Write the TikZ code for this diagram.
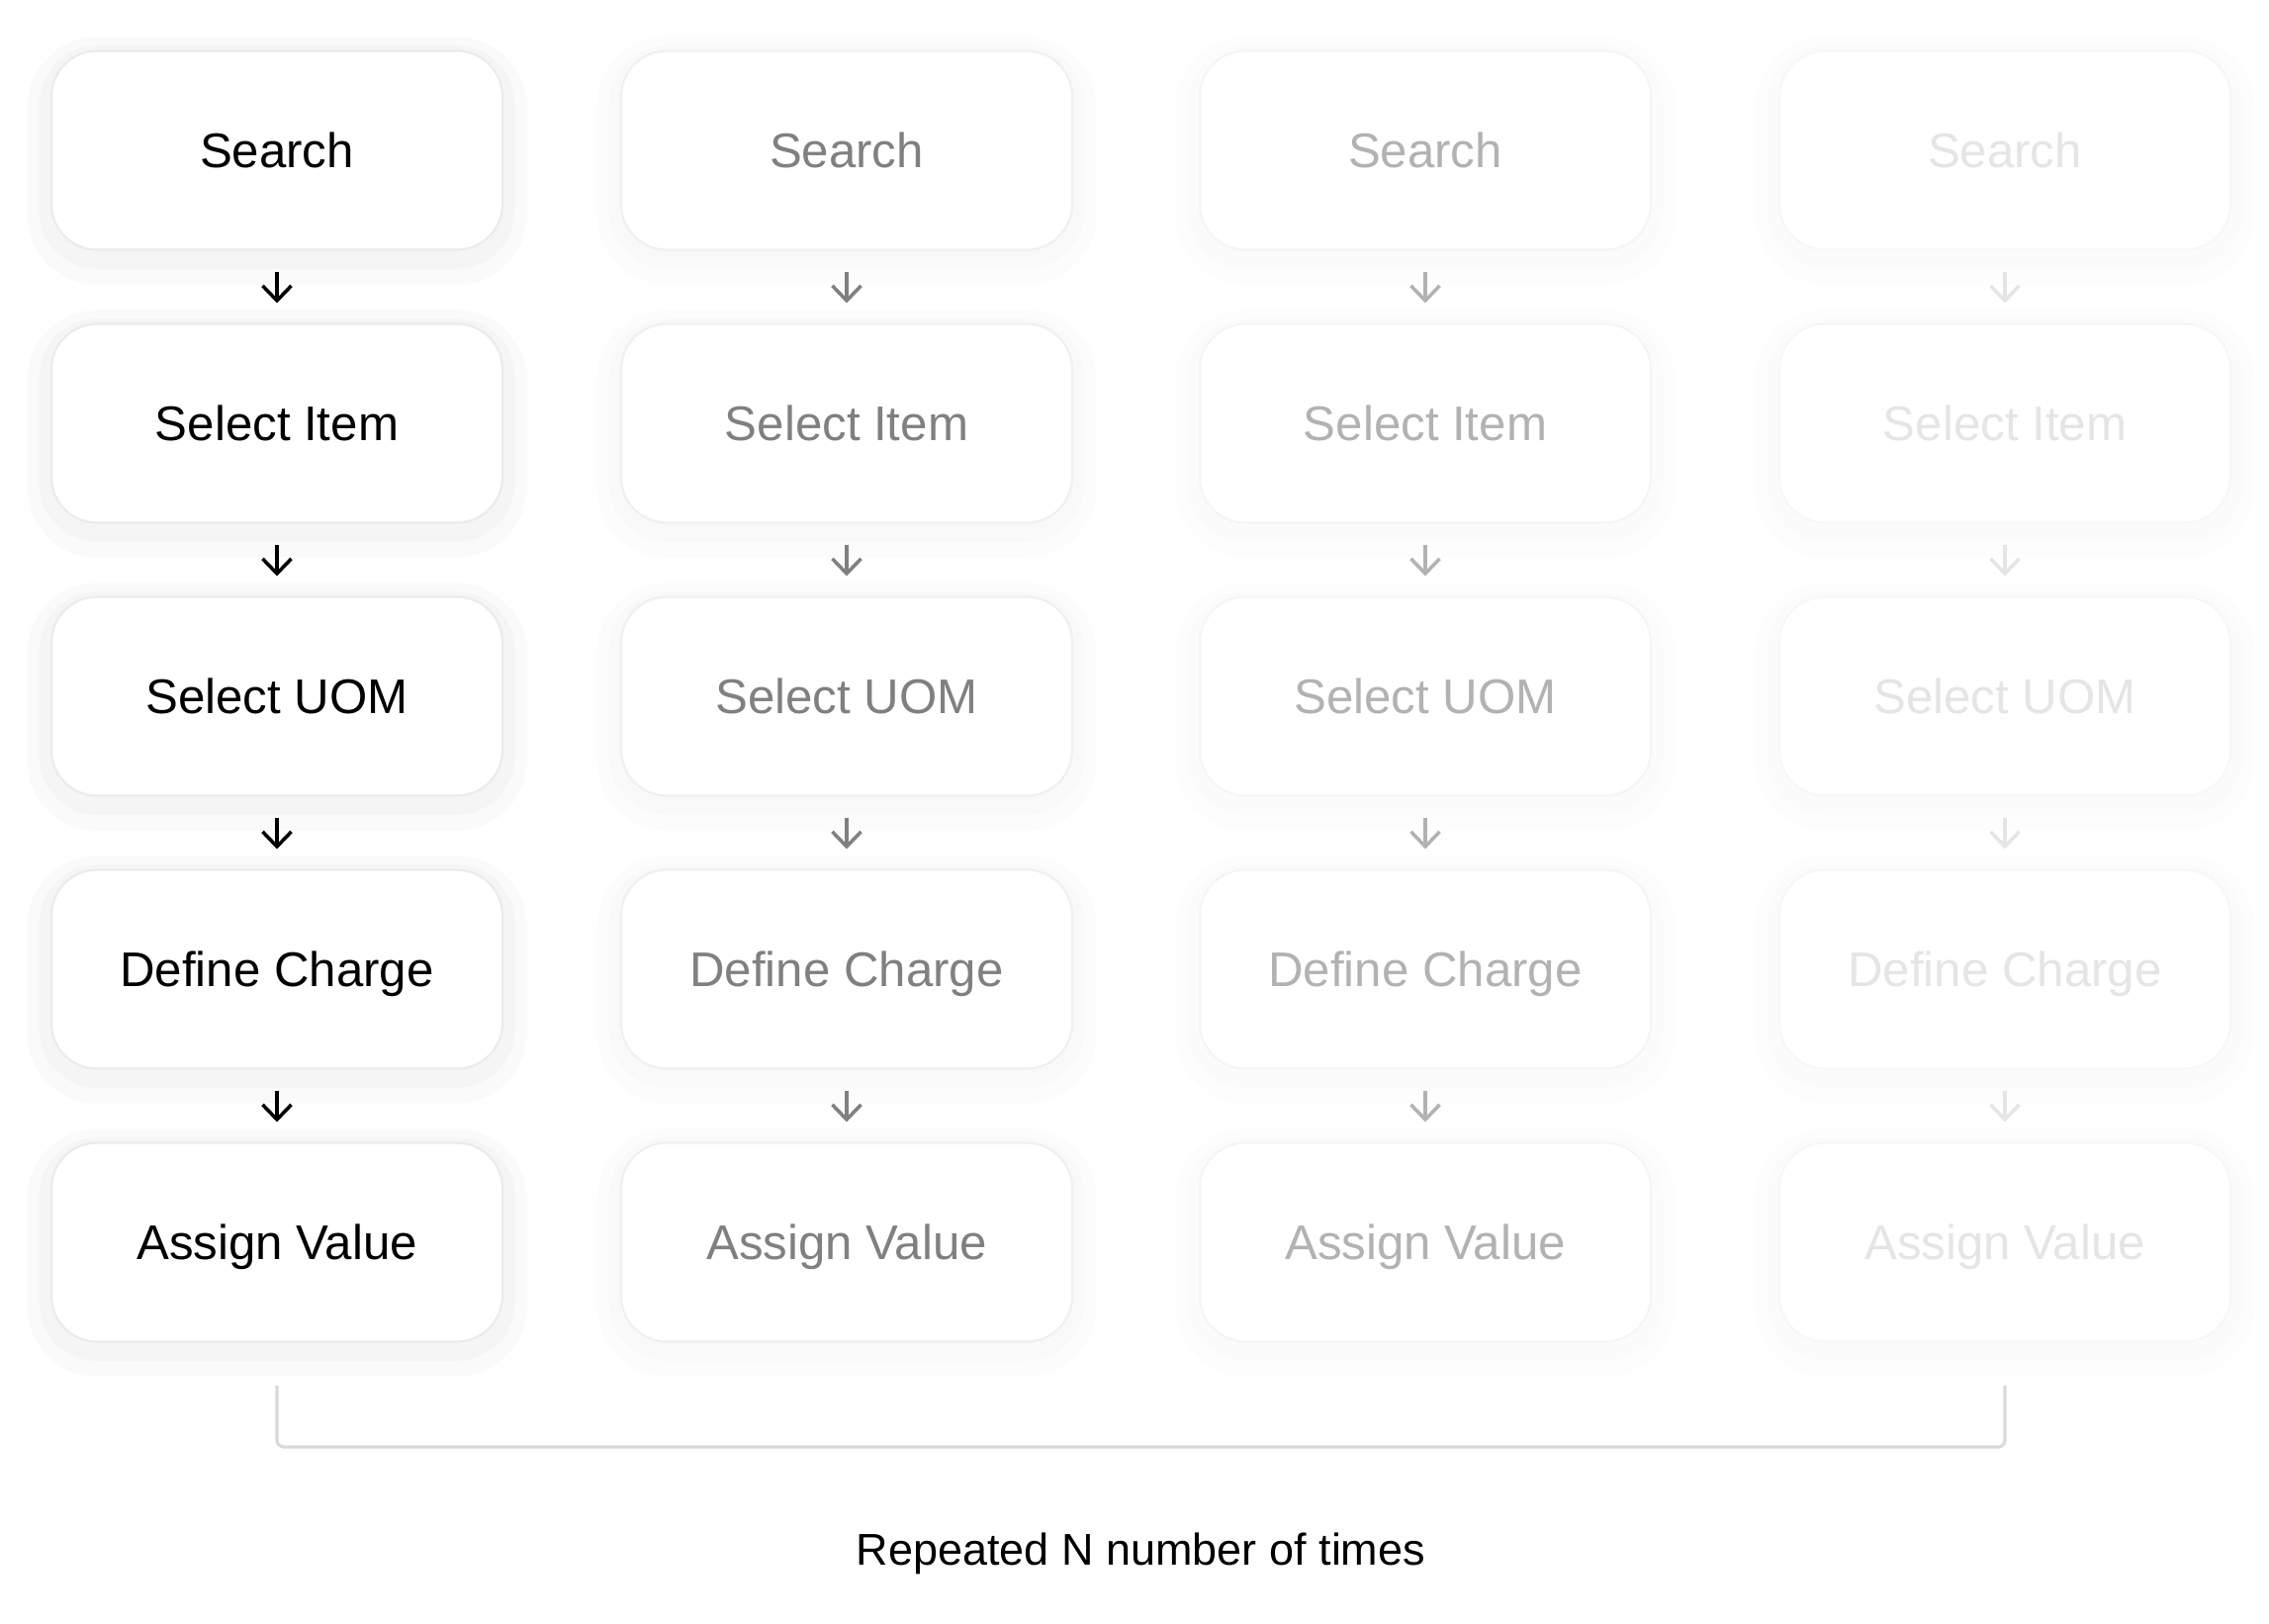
\documentclass[tikz,border=0pt]{standalone}
\usepackage{fontspec}
\setmainfont{Liberation Sans}
\usepackage{xcolor}
\usepackage{tikz}
\usetikzlibrary{arrows.meta,positioning}

\tikzset{
  box/.style={rounded corners=0.46cm, minimum width=4.56cm, minimum height=2.01cm,
    fill=white, line width=0.6pt, inner sep=0pt,
    text height=0.353cm, text depth=0pt, font=\fontsize{14}{16}\selectfont},
  halo/.style={
    preaction={draw=black, draw opacity=#1, line width=14pt, transform canvas={yshift=-3pt}},
    preaction={draw=black, draw opacity=#1, line width=7pt, transform canvas={yshift=-2pt}}},
  colA/.style={box, halo=0.018, draw=black!8, text=black},
  colB/.style={box, halo=0.012, draw=black!6, text=black!50},
  colC/.style={box, halo=0.008, draw=black!4, text=black!30},
  colD/.style={box, halo=0.006, draw=black!3, text=black!10},
  flow/.style={-{Straight Barb[length=1.5mm,width=2.9mm]}, line width=1pt,
    shorten <=0.21cm, shorten >=0.2cm},
}

\begin{document}
\begin{tikzpicture}
% Page
\fill[white] (0,0) rectangle (22.94,-16.42);
\useasboundingbox (0,0) rectangle (22.94,-16.42);

% First run
\node[colA] (search1) at (2.80,-1.52) {Search};
\node[colA] (item1)   at (2.80,-4.28) {Select Item};
\node[colA] (uom1)    at (2.80,-7.04) {Select UOM};
\node[colA] (charge1) at (2.80,-9.80) {Define Charge};
\node[colA] (value1)  at (2.80,-12.56) {Assign Value};

% Second run
\node[colB] (search2) at (8.56,-1.52) {Search};
\node[colB] (item2)   at (8.56,-4.28) {Select Item};
\node[colB] (uom2)    at (8.56,-7.04) {Select UOM};
\node[colB] (charge2) at (8.56,-9.80) {Define Charge};
\node[colB] (value2)  at (8.56,-12.56) {Assign Value};

% Third run
\node[colC] (search3) at (14.41,-1.52) {Search};
\node[colC] (item3)   at (14.41,-4.28) {Select Item};
\node[colC] (uom3)    at (14.41,-7.04) {Select UOM};
\node[colC] (charge3) at (14.41,-9.80) {Define Charge};
\node[colC] (value3)  at (14.41,-12.56) {Assign Value};

% Fourth run
\node[colD] (search4) at (20.27,-1.52) {Search};
\node[colD] (item4)   at (20.27,-4.28) {Select Item};
\node[colD] (uom4)    at (20.27,-7.04) {Select UOM};
\node[colD] (charge4) at (20.27,-9.80) {Define Charge};
\node[colD] (value4)  at (20.27,-12.56) {Assign Value};

% Arrows
\draw[flow, black] (search1) -- (item1);
\draw[flow, black] (item1) -- (uom1);
\draw[flow, black] (uom1) -- (charge1);
\draw[flow, black] (charge1) -- (value1);

\draw[flow, black!50] (search2) -- (item2);
\draw[flow, black!50] (item2) -- (uom2);
\draw[flow, black!50] (uom2) -- (charge2);
\draw[flow, black!50] (charge2) -- (value2);

\draw[flow, black!30] (search3) -- (item3);
\draw[flow, black!30] (item3) -- (uom3);
\draw[flow, black!30] (uom3) -- (charge3);
\draw[flow, black!30] (charge3) -- (value3);

\draw[flow, black!10] (search4) -- (item4);
\draw[flow, black!10] (item4) -- (uom4);
\draw[flow, black!10] (uom4) -- (charge4);
\draw[flow, black!10] (charge4) -- (value4);

% Bracket
\coordinate (bl) at (2.80,-14.01);
\coordinate (br) at (20.27,-14.01);
\draw[black!15, line width=0.9pt, rounded corners=2pt] (bl) -- ++(0,-0.62) -| (br);

% Caption
\node[anchor=base, font=\fontsize{12.8}{15}\selectfont] (caption) at (11.535,-15.82) {Repeated N number of times};

\end{tikzpicture}
\end{document}
